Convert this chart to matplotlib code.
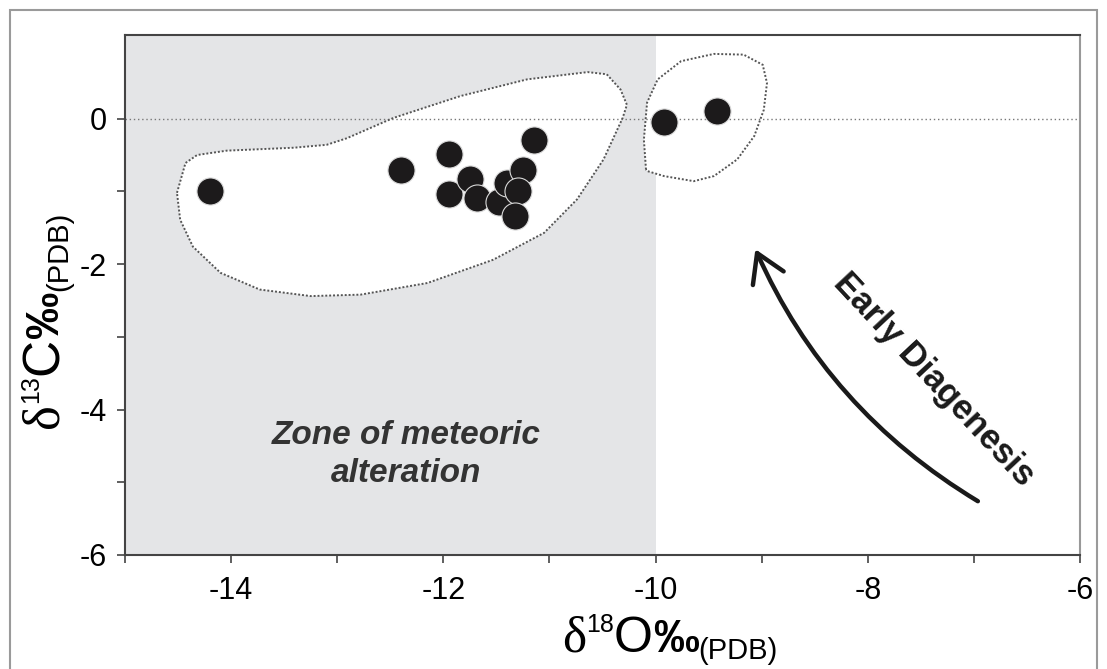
import matplotlib
matplotlib.use('Agg')
import matplotlib.pyplot as plt
from matplotlib.patches import Polygon, FancyArrowPatch, Rectangle
from matplotlib.transforms import IdentityTransform

plt.rcParams['font.family'] = 'Liberation Sans'

# ---- data ----
meteoric_d18O = [-14.2, -12.4, -11.95, -11.15, -11.95, -11.75, -11.68, -11.48, -11.40, -11.25, -11.30, -11.32]
meteoric_d13C = [-1.00, -0.70, -0.48, -0.30, -1.04, -0.83, -1.09, -1.14, -0.89, -0.70, -1.00, -1.34]
early_d18O = [-9.92, -9.42]
early_d13C = [-0.04, 0.10]

# dotted envelopes drawn around the two groups
big_env_x = [-14.51, -14.43, -14.32, -14.04, -13.41, -13.10, -12.91, -12.47, -11.84, -11.21, -10.64,
             -10.46, -10.33, -10.27, -10.31, -10.49, -10.74, -11.05, -11.53, -12.15, -12.78, -13.25,
             -13.73, -14.10, -14.36, -14.48]
big_env_y = [-1.02, -0.61, -0.50, -0.44, -0.40, -0.36, -0.27, 0.01, 0.31, 0.54, 0.64,
             0.61, 0.40, 0.19, 0.01, -0.56, -1.11, -1.57, -1.94, -2.26, -2.42, -2.44,
             -2.35, -2.12, -1.76, -1.39]
small_env_x = [-10.09, -10.11, -10.08, -9.98, -9.76, -9.45, -9.17, -8.99, -8.95, -8.98, -9.07,
               -9.23, -9.45, -9.64, -9.92, -10.08]
small_env_y = [-0.70, -0.29, 0.22, 0.54, 0.79, 0.89, 0.88, 0.74, 0.49, 0.12, -0.24,
               -0.56, -0.79, -0.86, -0.79, -0.72]

x_ticks = [-14, -12, -10, -8, -6]
y_ticks = [-6, -4, -2, 0]

fig = plt.figure(figsize=(11.07, 6.69), dpi=100)
ax = fig.add_axes([125/1107, 1 - 555/669, 955/1107, 520/669])

ax.axvspan(-15, -10, color='#e4e5e7', zorder=0, lw=0)

for ex, ey in [(big_env_x, big_env_y), (small_env_x, small_env_y)]:
    ax.add_patch(Polygon(list(zip(ex, ey)), closed=True, facecolor='white', edgecolor='none', zorder=1))
ax.axhline(0, color='#777777', lw=1.0, ls=(0, (1, 2)), zorder=2)
for ex, ey in [(big_env_x, big_env_y), (small_env_x, small_env_y)]:
    ax.add_patch(Polygon(list(zip(ex, ey)), closed=True, facecolor='none', edgecolor='#555555',
                         lw=1.4, ls=(0, (1, 1)), zorder=3))

ax.scatter(meteoric_d18O, meteoric_d13C, s=380, color='#1c1a1b', edgecolor='#d8d8d8', lw=0.8, zorder=5)
ax.scatter(early_d18O, early_d13C, s=380, color='#1c1a1b', edgecolor='#d8d8d8', lw=0.8, zorder=5)

# arrow + annotations
arrow = FancyArrowPatch((-6.94, -5.28), (-9.07, -1.76), connectionstyle='arc3,rad=-0.16',
                        arrowstyle='->,head_length=0.9,head_width=0.55', mutation_scale=22,
                        lw=3.2, color='#1a1a1a', zorder=6)
ax.add_patch(arrow)
ax.text(-7.38, -3.59, 'Early Diagenesis', rotation=-47, fontsize=25, fontweight='bold',
        ha='center', va='center', color='#1a1a1a', rotation_mode='anchor')
ax.text(-12.35, -4.62, 'Zone of meteoric\nalteration', fontsize=24, fontweight='bold',
        fontstyle='italic', ha='center', va='center', color='#333333', linespacing=1.3)

ax.set_xlim(-15, -6)
ax.set_ylim(-6, 1.15)
ax.set_xticks(x_ticks)
ax.set_xticklabels([str(v) for v in x_ticks])
ax.set_yticks(y_ticks)
ax.set_yticklabels([str(v) for v in y_ticks])
ax.set_xticks([-15, -13, -11, -9, -7], minor=True)
ax.set_yticks([-5, -3, -1], minor=True)
ax.tick_params(which='both', direction='out', length=6, width=1.2, color='#444444',
               labelsize=22)
ax.tick_params(axis='x', pad=9)
ax.tick_params(axis='y', pad=7)
for sp in ax.spines.values():
    sp.set_color('#444444')
    sp.set_linewidth(1.5)
ax.spines['right'].set_color('#999999')

# axis titles built from pieces (serif delta, bold permil, sub/superscripts)
def draw_label(pieces, x0, y0, rotation=0):
    r = fig.canvas.get_renderer()
    pos = 0.0
    for txt, size, kw, shift in pieces:
        if rotation == 0:
            xy = (x0 + pos, y0 + shift)
        else:
            xy = (x0 - shift, y0 + pos)
        t = fig.text(xy[0], xy[1], txt, transform=IdentityTransform(), fontsize=size,
                     rotation=rotation, rotation_mode='anchor', ha='left', va='baseline', **kw)
        bb = t.get_window_extent(r)
        pos += bb.width if rotation == 0 else bb.height

serif = {'family': 'Liberation Serif'}
bold = {'fontweight': 'bold'}
xlabel = [('δ', 37, serif, 0), ('18', 18, {}, 20), ('O', 36, {}, 0), ('‰', 33, bold, 0), ('(PDB)', 21, {}, -7)]
ylabel = [('δ', 38, serif, 0), ('13', 18, {}, 20), ('C', 37, {}, 0), ('‰', 34, bold, 0), ('(PDB)', 21, {}, -9)]
draw_label(xlabel, 562, 17)
draw_label(ylabel, 58, 241, rotation=90)

# outer frame of the figure
fig.patches.append(Rectangle((10/1107, -0.05), 1087/1107, 1.05 - 10/669, transform=fig.transFigure,
                             fill=False, edgecolor='#9a9a9a', lw=1.5))

fig.savefig('out.png', dpi=100)
